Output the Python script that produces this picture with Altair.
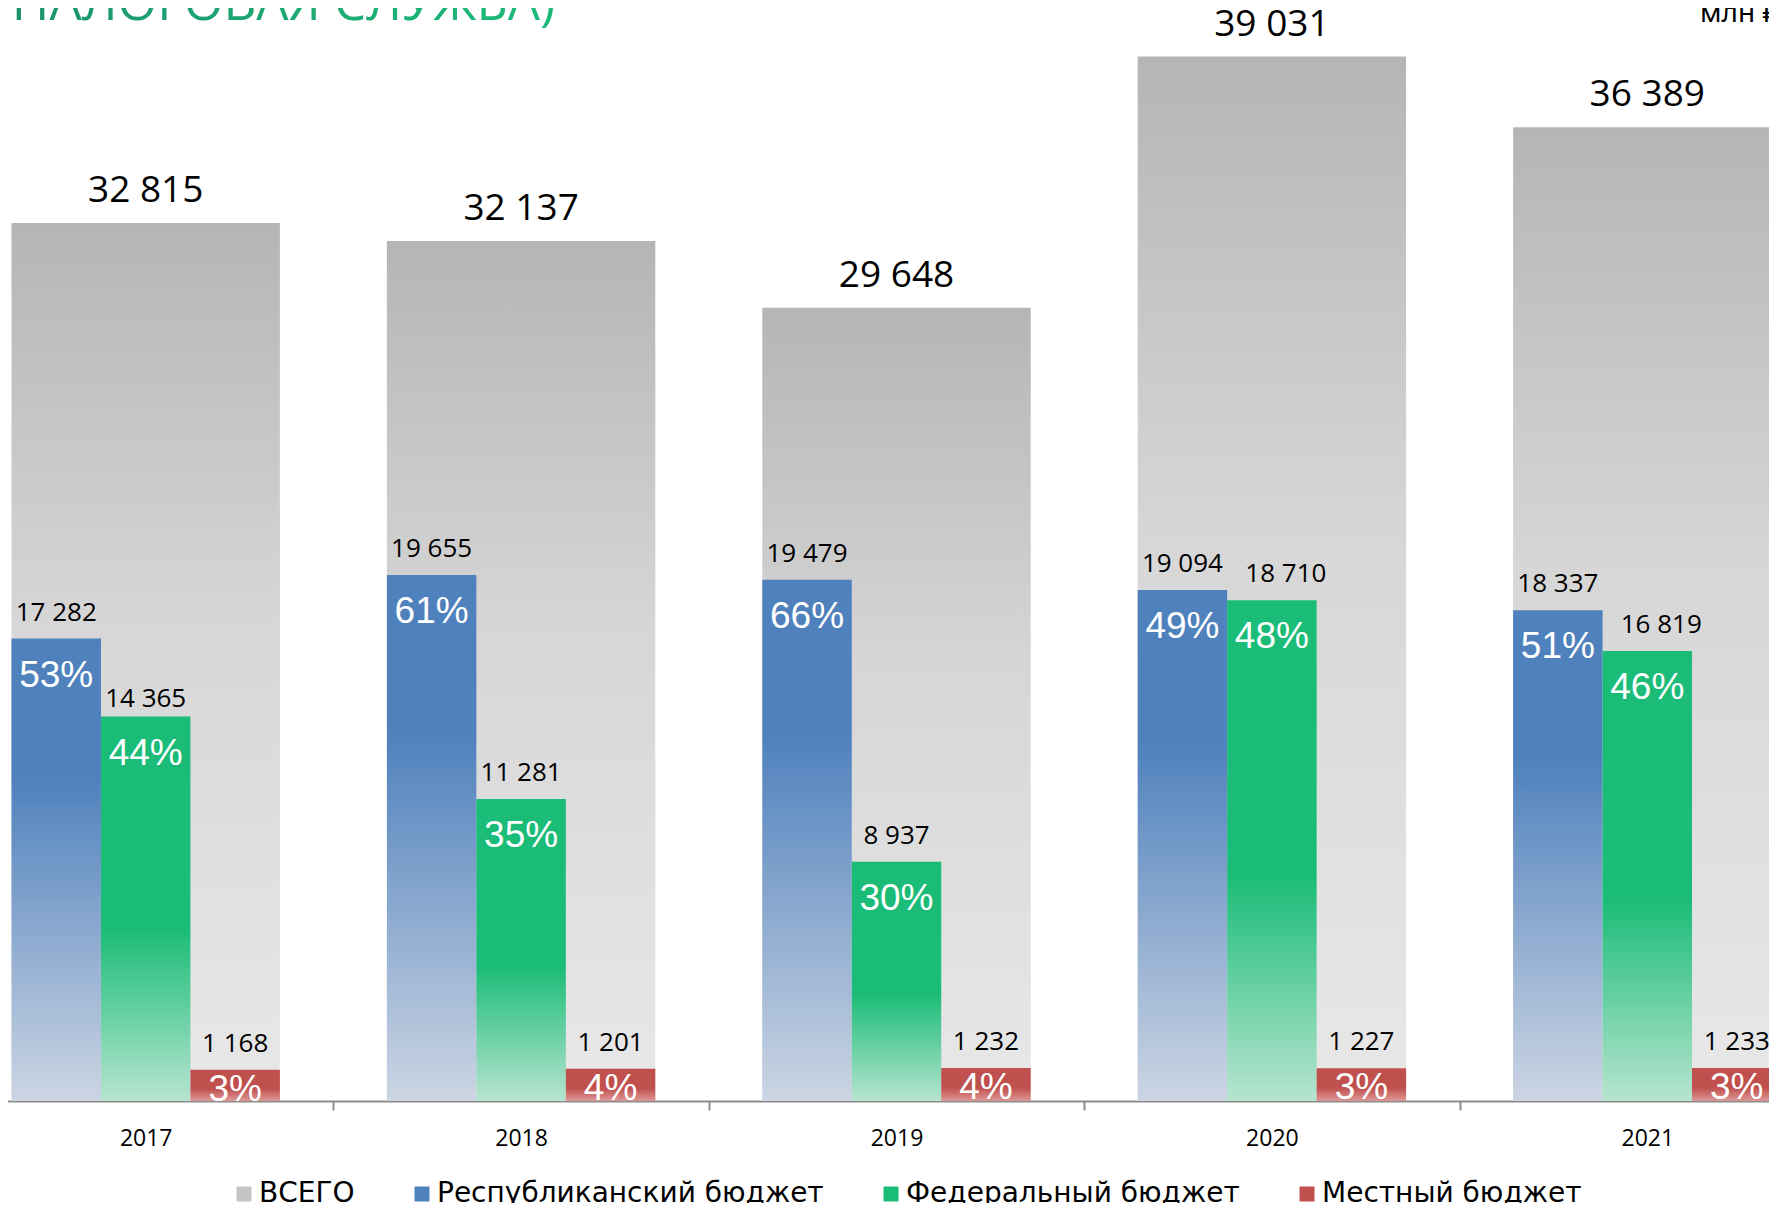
import altair as alt
import pandas as pd

years = ["2017", "2018", "2019", "2020", "2021"]
total = [32815, 32137, 29648, 39031, 36389]
rep = [17282, 19655, 19479, 19094, 18337]
fed = [14365, 11281, 8937, 18710, 16819]
loc = [1168, 1201, 1232, 1227, 1233]
rep_pct = ["53%", "61%", "66%", "49%", "51%"]
fed_pct = ["44%", "35%", "30%", "48%", "46%"]
loc_pct = ["3%", "4%", "4%", "3%", "3%"]
series_names = ["ВСЕГО", "Республиканский бюджет", "Федеральный бюджет", "Местный бюджет"]
series_colors = ["#c4c4c4", "#4f81bd", "#1abc77", "#c0504d"]
title_text = "(ФЕДЕРАЛЬНАЯ НАЛОГОВАЯ СЛУЖБА)"
unit_text = "млн ₽"


def fmt(v):
    return f"{v:,}".replace(",", " ")


tot_df = pd.DataFrame({"year": years, "value": total, "label": [fmt(v) for v in total]})
rows = []
for name, vals, pcts in zip(series_names[1:], [rep, fed, loc], [rep_pct, fed_pct, loc_pct]):
    for yr, v, p in zip(years, vals, pcts):
        rows.append({"year": yr, "series": name, "value": v, "label": fmt(v), "pct": p})
ser_df = pd.DataFrame(rows)
leg_df = pd.DataFrame({"series": series_names})
title_df = pd.DataFrame({"t": [title_text]})
unit_df = pd.DataFrame({"t": [unit_text]})

X = alt.X("year:N", sort=years,
          scale=alt.Scale(domain=years, range=[-50, 1827], paddingInner=0, paddingOuter=0),
          axis=alt.Axis(title=None, labelAngle=0))
Y = alt.Y("value:Q", scale=alt.Scale(domain=[0, 40845], nice=False, zero=True), axis=None)
XO = alt.XOffset("series:N", scale=alt.Scale(domain=series_names[1:], paddingInner=0, paddingOuter=0.598))


def vgrad(stops):
    return alt.Gradient(gradient="linear", x1=0, x2=0, y1=0, y2=1,
                        stops=[alt.GradientStop(color=c, offset=o) for o, c in stops])


gray = alt.Chart(tot_df).mark_bar(
    color=vgrad([(0, "#b5b5b5"), (0.45, "#d6d6d6"), (1, "#e8e8e8")]),
    width=alt.RelativeBandSize(0.715)
).encode(x=X, y=Y)

bar_specs = [
    (series_names[1], [(0, "#4f81bd"), (0.3, "#4f81bd"), (1, "#ccd5e3")]),
    (series_names[2], [(0, "#1abc77"), (0.55, "#1abc77"), (1, "#b7e4d0")]),
    (series_names[3], [(0, "#c0504d"), (0.6, "#c0504d"), (1, "#de9896")]),
]
colored = [
    alt.Chart(ser_df).transform_filter(alt.datum.series == name).mark_bar(color=vgrad(st)).encode(
        x=X, xOffset=XO, y=Y)
    for name, st in bar_specs
]

tot_text = alt.Chart(tot_df).mark_text(
    font="Open Sans", fontSize=37, baseline="alphabetic", dy=-21, color="#000000"
).encode(x=X, y=Y, text="label:N")

# value labels: most sit centred above their bar; a few are nudged as in the original
is_fed = alt.datum.series == series_names[2]
crowded = is_fed & ((alt.datum.year == "2020") | (alt.datum.year == "2021"))
low = is_fed & (alt.datum.year == "2017")
val_text = alt.Chart(ser_df).transform_filter(~crowded & ~low).mark_text(
    font="Open Sans", fontSize=26, baseline="alphabetic", dy=-18, color="#000000"
).encode(x=X, xOffset=XO, y=Y, text="label:N")
val_text_crowded = alt.Chart(ser_df).transform_filter(crowded).mark_text(
    font="Open Sans", fontSize=26, baseline="alphabetic", dy=-18, dx=14, color="#000000"
).encode(x=X, xOffset=XO, y=Y, text="label:N")
val_text_low = alt.Chart(ser_df).transform_filter(low).mark_text(
    font="Open Sans", fontSize=26, baseline="alphabetic", dy=-10, color="#000000"
).encode(x=X, xOffset=XO, y=Y, text="label:N")

pct_text = alt.Chart(ser_df).transform_filter(alt.datum.series != series_names[3]).mark_text(
    font="Liberation Sans", fontSize=37, baseline="alphabetic", dy=48, color="#ffffff"
).encode(x=X, xOffset=XO, y=Y, text="pct:N")

pct_loc = alt.Chart(ser_df).transform_filter(alt.datum.series == series_names[3]).mark_text(
    font="Liberation Sans", fontSize=37, baseline="alphabetic", dy=31, color="#ffffff"
).encode(x=X, xOffset=XO, y=Y, text="pct:N")

legend_layer = alt.Chart(leg_df).mark_square(opacity=0).encode(
    color=alt.Color("series:N", scale=alt.Scale(domain=series_names, range=series_colors),
                    legend=alt.Legend(orient="none", legendX=222, legendY=1172, direction="horizontal",
                                      columns=4, symbolType="square", symbolSize=225,
                                      symbolStrokeWidth=0, symbolOpacity=1, labelFont="DejaVu Sans",
                                      labelFontSize=28, labelColor="#000000", labelOffset=1,
                                      columnPadding=53, padding=0, title=None, labelLimit=1000))
)

title_layer = alt.Chart(title_df).mark_text(
    align="right", font="Open Sans", fontSize=51, baseline="alphabetic",
    color=alt.Gradient(gradient="linear", x1=0, x2=1, y1=0, y2=0,
                       stops=[alt.GradientStop(color="#1d6f57", offset=0),
                              alt.GradientStop(color="#1c9a6c", offset=0.5),
                              alt.GradientStop(color="#1cbb7a", offset=1)])
).encode(x=alt.value(547), y=alt.value(12), text="t:N")

unit_layer = alt.Chart(unit_df).mark_text(
    align="left", font="Noto Sans", fontSize=28, baseline="alphabetic", color="#000000"
).encode(x=alt.value(1692), y=alt.value(14), text="t:N")

chart = alt.layer(
    gray, *colored, tot_text, val_text, val_text_crowded, val_text_low, pct_text, pct_loc,
    legend_layer, title_layer, unit_layer
).properties(
    width=1761, height=1093,
    autosize=alt.AutoSizeParams(type="none"),
    padding={"left": 0, "right": 0, "top": 0, "bottom": 102},
).configure_view(stroke=None).configure_axis(
    domainColor="#8c8c8c", domainWidth=2, tickColor="#8c8c8c", tickWidth=2, tickSize=9,
    tickBand="extent", labelFont="Open Sans", labelFontSize=23, labelColor="#000000",
    labelPadding=35, labelBaseline="alphabetic", grid=False
)

chart.save("out.html", embed_options={"renderer": "svg", "actions": False})
